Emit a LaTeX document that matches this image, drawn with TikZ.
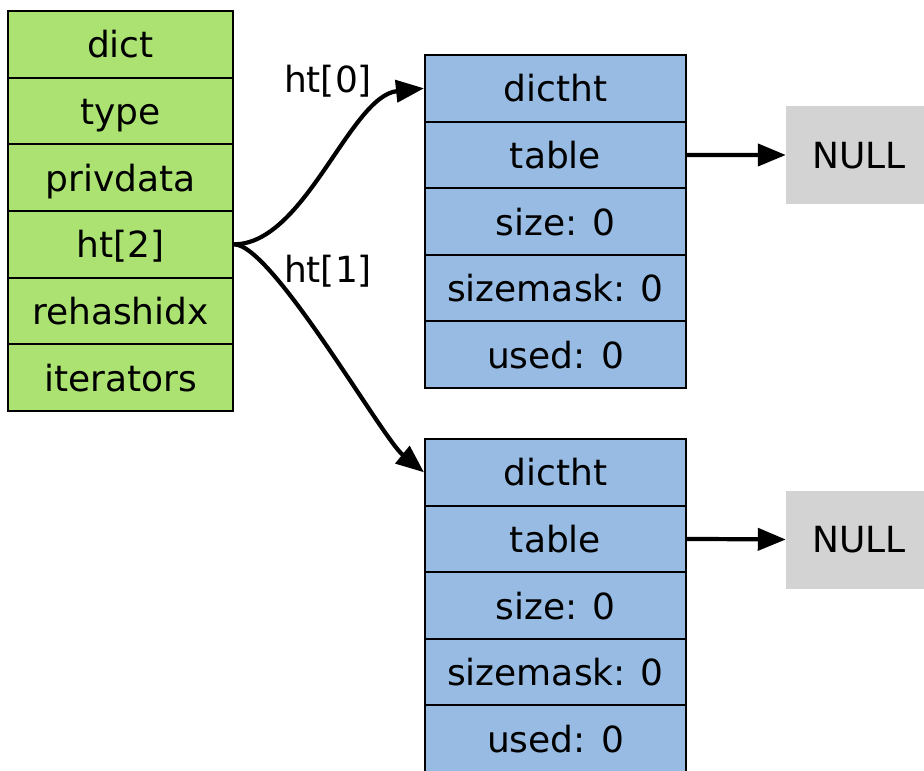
\documentclass[tikz,border=0pt]{standalone}
\usepackage{fontspec}
\setmainfont{DejaVu Sans}
\usetikzlibrary{arrows.meta}
\definecolor{dgreen}{RGB}{172,226,114}
\definecolor{dblue}{RGB}{151,187,227}
\definecolor{nullgray}{RGB}{211,211,211}
\begin{document}
\begin{tikzpicture}[x=1pt,y=-1pt,
  every node/.style={font=\fontsize{36}{43}\selectfont},
  cell/.style={draw=black, line width=2pt, inner sep=0pt, text height=30pt, text depth=3pt},
  dictcell/.style={cell, fill=dgreen, minimum width=225pt, minimum height=66.67pt},
  htcell/.style={cell, fill=dblue, minimum width=261pt, minimum height=66.6pt},
  nullbox/.style={fill=nullgray, inner sep=0pt, minimum width=146pt, minimum height=98pt, text height=30pt, text depth=4pt},
  ptr/.style={line width=4.2pt, -{Triangle[length=28pt,width=22pt]}},
  lbl/.style={inner sep=0pt, text height=30pt, text depth=3pt}]
\useasboundingbox (0,0) rectangle (924,771);
% dict
\node[dictcell] (d0) at (120.5,44.3) {dict};
\node[dictcell] (d1) at (120.5,111.0) {type};
\node[dictcell] (d2) at (120.5,177.6) {privdata};
\node[dictcell] (d3) at (120.5,244.3) {ht[2]};
\node[dictcell] (d4) at (120.5,311.0) {rehashidx};
\node[dictcell] (d5) at (120.5,377.6) {iterators};
% upper dictht
\node[htcell] (u0) at (555.5,88.3) {dictht};
\node[htcell] (u1) at (555.5,154.9) {table};
\node[htcell] (u2) at (555.5,221.5) {size: 0};
\node[htcell] (u3) at (555.5,288.1) {sizemask: 0};
\node[htcell] (u4) at (555.5,354.7) {used: 0};
% lower dictht
\node[htcell] (l0) at (555.5,472.3) {dictht};
\node[htcell] (l1) at (555.5,538.9) {table};
\node[htcell] (l2) at (555.5,605.5) {size: 0};
\node[htcell] (l3) at (555.5,672.1) {sizemask: 0};
\node[htcell] (l4) at (555.5,738.7) {used: 0};
% NULL boxes
\node[nullbox] (n1) at (859,155) {NULL};
\node[nullbox] (n2) at (859,539.5) {NULL};
% edges
\draw[ptr] (d3.east) .. controls (305,244.3) and (350,96) .. (u0.west);
\draw[ptr] (d3.east) .. controls (272,244.3) and (382,438) .. (l0.west);
\draw[ptr] (u1.east) -- (n1.west);
\draw[ptr] (l1.east) -- (n2.west);
% labels
\node[lbl] (t0) at (328,79) {ht[0]};
\node[lbl] (t1) at (328,268.5) {ht[1]};
\end{tikzpicture}
\end{document}
